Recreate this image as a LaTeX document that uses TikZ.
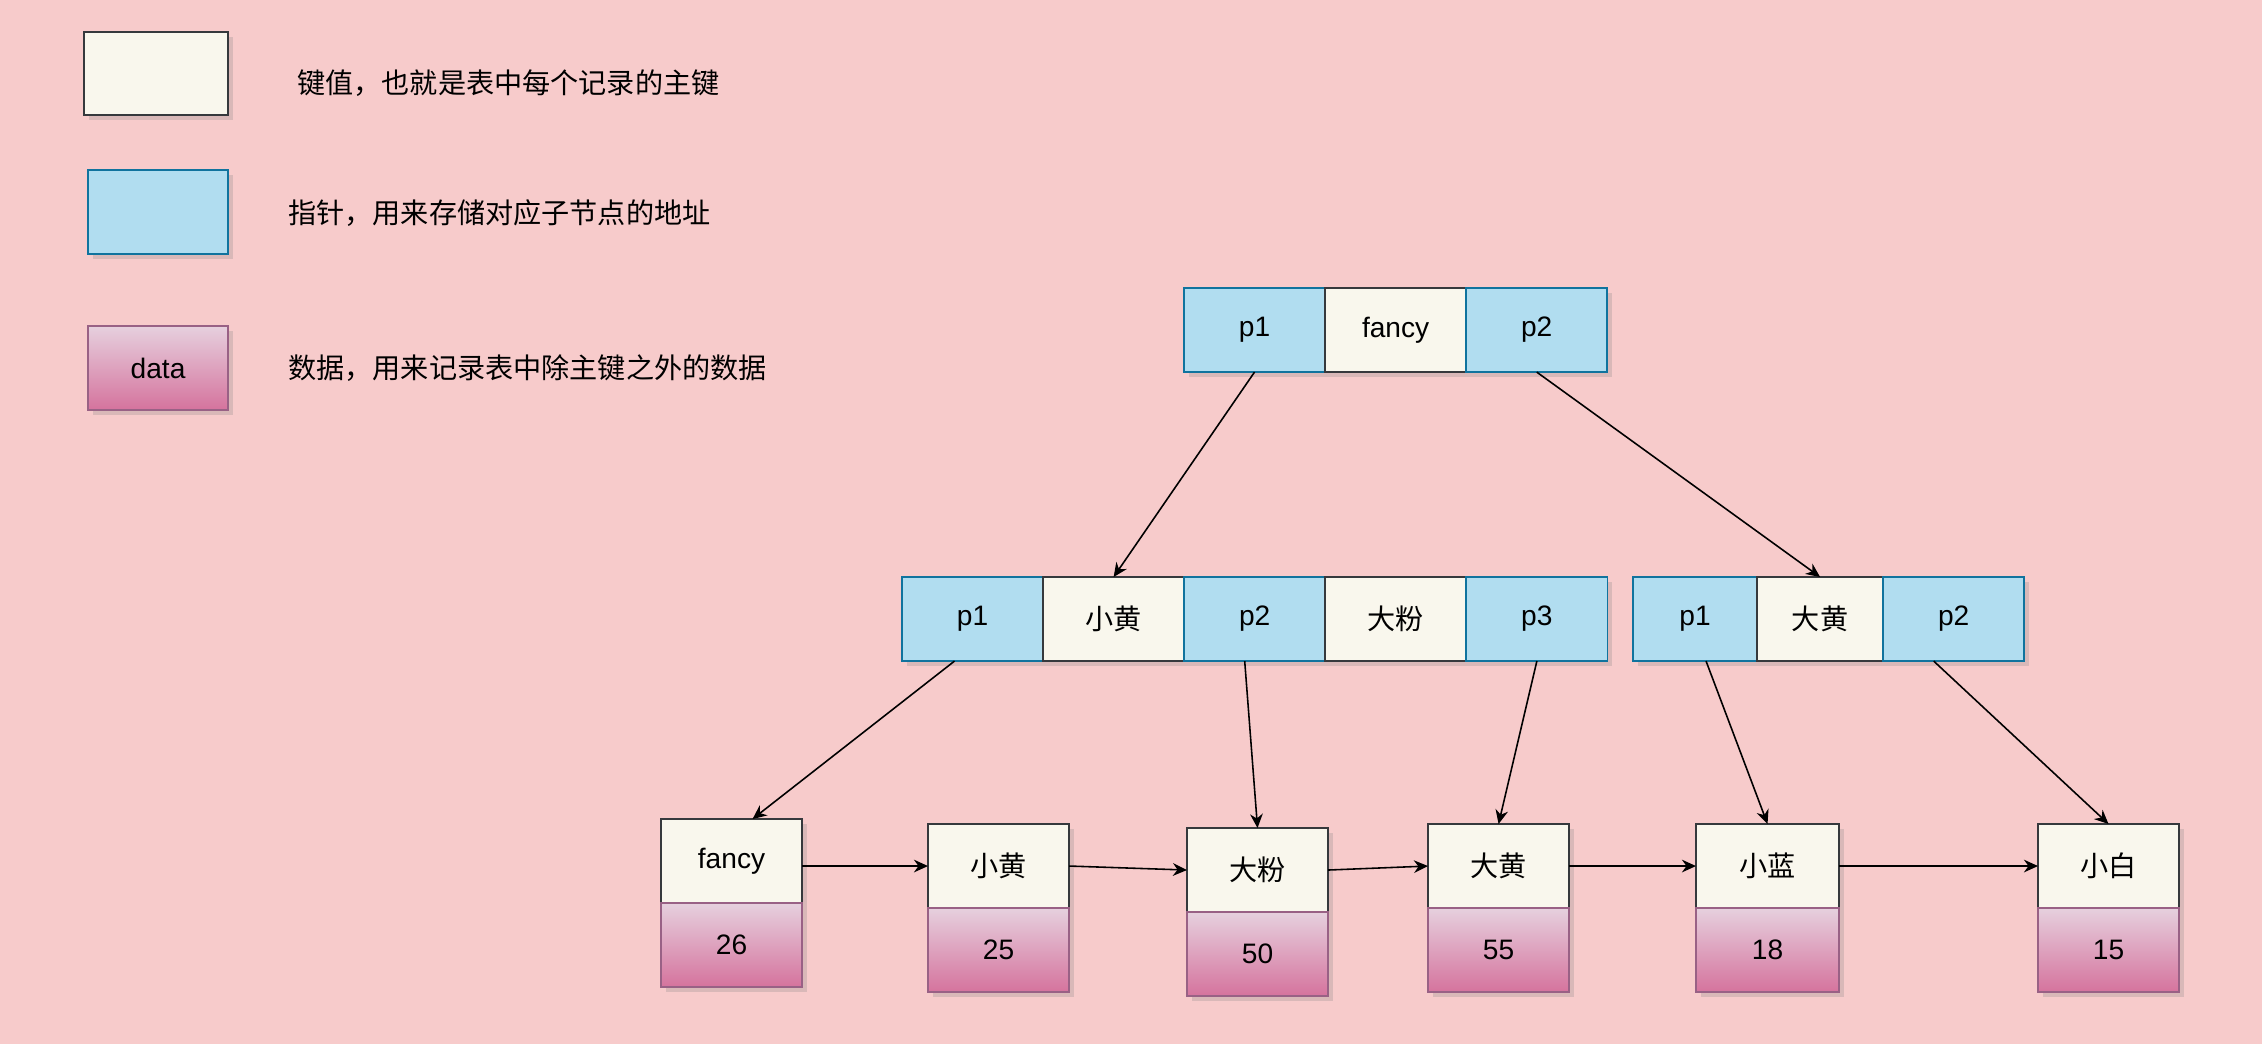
\documentclass[tikz,border=0pt]{standalone}
\usepackage{fontspec}
\setmainfont{Liberation Sans}
\newfontfamily\cjk{Noto Sans CJK SC}
\usepackage{xcolor}
\usepackage{tikz}
\usetikzlibrary{arrows.meta, positioning, shadows}

\definecolor{fondo}{HTML}{F7CBCB}
\definecolor{clave}{HTML}{F9F7ED}
\definecolor{claveborde}{HTML}{36393D}
\definecolor{puntero}{HTML}{B1DDF0}
\definecolor{punteroborde}{HTML}{10739E}
\definecolor{datoarriba}{HTML}{E6D0DE}
\definecolor{datoabajo}{HTML}{D5739D}
\definecolor{datoborde}{HTML}{996185}

\begin{document}
\begin{tikzpicture}[
            x=0.01cm, y=-0.01cm,               % una unidad = un pixel de la imagen
            cell/.style={
                rectangle,
                minimum width=1.41cm,
                minimum height=0.84cm,
                inner sep=0pt,
                outer sep=0pt,
                line width=0.5pt,
                font=\fontsize{8}{10}\selectfont,
                drop shadow={shadow xshift=0.05cm, shadow yshift=-0.05cm, opacity=0.25}
            },
            keycell/.style={cell, draw=claveborde, fill=clave},
            ptrcell/.style={cell, draw=punteroborde, fill=puntero},
            datacell/.style={cell, draw=datoborde, top color=datoarriba, bottom color=datoabajo},
            legtext/.style={anchor=west, font=\fontsize{8}{10}\selectfont\cjk},
            line/.style={
                draw,
                -{Stealth[length=4pt, width=3.6pt]},
                line width=0.45pt
            }
        ]
            \fill[fondo] (0,0) rectangle (2262,1044);
            \useasboundingbox (0,0) rectangle (2262,1044);

            % --- LEYENDA ---
            \node [keycell, anchor=north west, minimum width=1.44cm, minimum height=0.83cm] (leg_key) at (84,32) {};
            \node [legtext] (leg_key_txt) at (285,83) {键值，也就是表中每个记录的主键};

            \node [ptrcell, anchor=north west, minimum width=1.40cm] (leg_ptr) at (88,170) {};
            \node [legtext] (leg_ptr_txt) at (276,213) {指针，用来存储对应子节点的地址};

            \node [datacell, anchor=north west, minimum width=1.40cm] (leg_data) at (88,326) {data};
            \node [legtext] (leg_data_txt) at (276,368) {数据，用来记录表中除主键之外的数据};

            % --- NODO RAIZ ---
            \node [ptrcell, anchor=north west] (root_p1) at (1184,288) {p1};
            \node [keycell, right=0pt of root_p1] (root_k) {fancy};
            \node [ptrcell, right=0pt of root_k] (root_p2) {p2};

            % --- NIVEL INTERMEDIO ---
            \node [ptrcell, anchor=north west] (mid_p1) at (902,577) {p1};
            \node [keycell, right=0pt of mid_p1] (mid_k1) {\cjk 小黄};
            \node [ptrcell, right=0pt of mid_k1] (mid_p2) {p2};
            \node [keycell, right=0pt of mid_p2] (mid_k2) {\cjk 大粉};
            \node [ptrcell, right=0pt of mid_k2] (mid_p3) {p3};

            \node [ptrcell, anchor=north west, minimum width=1.24cm] (right_p1) at (1633,577) {p1};
            \node [keycell, right=0pt of right_p1, minimum width=1.26cm] (right_k) {\cjk 大黄};
            \node [ptrcell, right=0pt of right_k] (right_p2) {p2};

            % --- HOJAS ---
            \node [keycell, anchor=north west] (leaf1) at (661,819) {fancy};
            \node [datacell, below=0pt of leaf1] (data1) {26};
            \node [keycell, anchor=north west] (leaf2) at (928,824) {\cjk 小黄};
            \node [datacell, below=0pt of leaf2] (data2) {25};
            \node [keycell, anchor=north west] (leaf3) at (1187,828) {\cjk 大粉};
            \node [datacell, below=0pt of leaf3] (data3) {50};
            \node [keycell, anchor=north west] (leaf4) at (1428,824) {\cjk 大黄};
            \node [datacell, below=0pt of leaf4] (data4) {55};
            \node [keycell, anchor=north west, minimum width=1.43cm] (leaf5) at (1696,824) {\cjk 小蓝};
            \node [datacell, below=0pt of leaf5, minimum width=1.43cm] (data5) {18};
            \node [keycell, anchor=north west] (leaf6) at (2038,824) {\cjk 小白};
            \node [datacell, below=0pt of leaf6] (data6) {15};

            % --- ENLACES ---
            \path [line] (root_p1.south) -- (mid_k1.north);
            \path [line] (root_p2.south) -- (right_k.north);

            \path [line] ([xshift=-0.18cm]mid_p1.south) -- ([xshift=0.21cm]leaf1.north);
            \path [line] ([xshift=-0.10cm]mid_p2.south) -- (leaf3.north);
            \path [line] (mid_p3.south) -- (leaf4.north);
            \path [line] ([xshift=0.11cm]right_p1.south) -- (leaf5.north);
            \path [line] ([xshift=-0.20cm]right_p2.south) -- (leaf6.north);

            \path [line] (leaf1.east |- leaf2.west) -- (leaf2.west);
            \path [line] (leaf2.east) -- (leaf3.west);
            \path [line] (leaf3.east) -- (leaf4.west);
            \path [line] (leaf4.east) -- (leaf5.west);
            \path [line] (leaf5.east) -- (leaf6.west);
        \end{tikzpicture}
\end{document}
